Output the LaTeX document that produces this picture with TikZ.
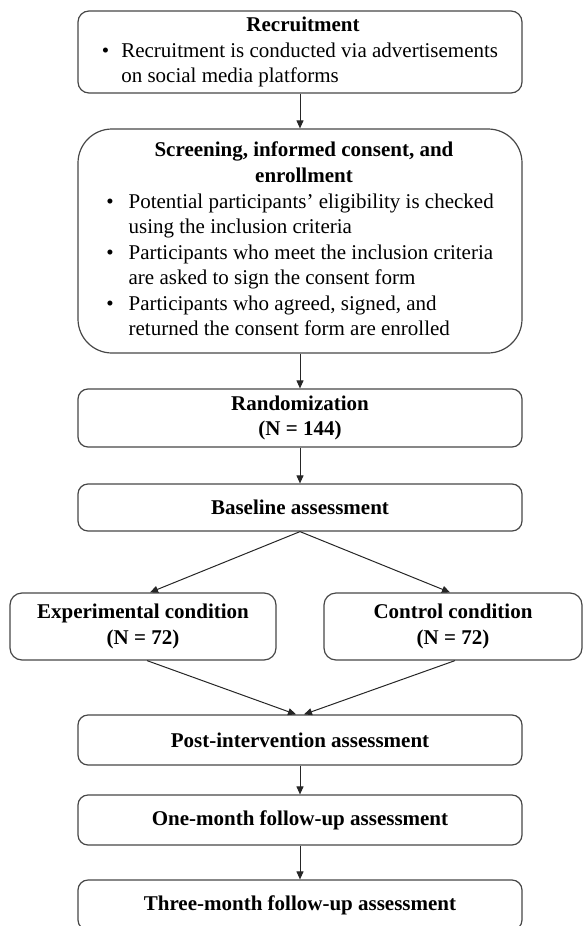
\documentclass[tikz,border=0pt]{standalone}
\usepackage{fontspec}
\setmainfont{Liberation Serif}
\usetikzlibrary{arrows.meta}
\begin{document}
\begin{tikzpicture}[x=1pt,y=-1pt,
  box/.style={draw=black!72, line width=1.2pt, rounded corners=11pt, inner sep=0pt, align=center,
              font=\fontsize{21}{25.5}\selectfont},
  arr/.style={draw=black!85, line width=1pt, -{Triangle[length=8pt,width=7pt]}},
]
\useasboundingbox (0,0) rectangle (584,926);
\clip (0,0) rectangle (584,926);

\node[box, minimum width=444pt, minimum height=82pt] (rec) at (300,52)
  {\begin{tabular}{@{}l@{\hspace{12pt}}l@{}}
   \multicolumn{2}{c}{\hspace{6pt}\textbf{Recruitment}}\\
   \textbullet & Recruitment is conducted via advertisements\\
   & on social media platforms
   \end{tabular}};

\node[box, rounded corners=34pt, minimum width=444pt, minimum height=224pt] (scr) at (300,241)
  {\begin{tabular}{@{}l@{\hspace{15pt}}l@{}}
   \multicolumn{2}{c}{\hspace{8pt}\textbf{Screening, informed consent, and}}\\[1pt]
   \multicolumn{2}{c}{\hspace{8pt}\textbf{enrollment}}\\
   \textbullet & Potential participants’ eligibility is checked\\
   & using the inclusion criteria\\
   \textbullet & Participants who meet the inclusion criteria\\
   & are asked to sign the consent form\\
   \textbullet & Participants who agreed, signed, and\\
   & returned the consent form are enrolled
   \end{tabular}};

\node[box, rounded corners=10pt, minimum width=444pt, minimum height=58pt] (rand) at (300,418)
  {\textbf{Randomization}\\\textbf{(N = 144)}};

\node[box, rounded corners=10pt, minimum width=444pt, minimum height=47pt] (base) at (300,507.5)
  {\textbf{Baseline assessment}};

\node[box, rounded corners=12pt, minimum width=266pt, minimum height=67pt] (exp) at (143,626.5)
  {\textbf{Experimental condition}\\\textbf{(N = 72)}};

\node[box, rounded corners=12pt, minimum width=258pt, minimum height=67pt] (ctl) at (453,626.5)
  {\textbf{Control condition}\\\textbf{(N = 72)}};

\node[box, rounded corners=10pt, minimum width=444pt, minimum height=50pt] (post) at (300,740)
  {\textbf{Post-intervention assessment}};

\node[box, rounded corners=10pt, minimum width=444pt, minimum height=50pt] (one) at (300,820)
  {\textbf{One-month follow-up assessment}};

\node[box, rounded corners=10pt, minimum width=444pt, minimum height=50pt] (three) at (300,905)
  {\textbf{Three-month follow-up assessment}};

\draw[arr] (rec.south) -- (scr.north);
\draw[arr] (scr.south) -- (rand.north);
\draw[arr] (rand.south) -- (base.north);
\draw[arr] (base.south) -- ([xshift=7pt]exp.north);
\draw[arr] (base.south) -- ([xshift=-3pt]ctl.north);
\draw[arr] ([xshift=4pt]exp.south) -- ([xshift=-4pt]post.north);
\draw[arr] ([xshift=2pt]ctl.south) -- ([xshift=4pt]post.north);
\draw[arr] (post.south) -- (one.north);
\draw[arr] (one.south) -- (three.north);
\end{tikzpicture}
\end{document}
